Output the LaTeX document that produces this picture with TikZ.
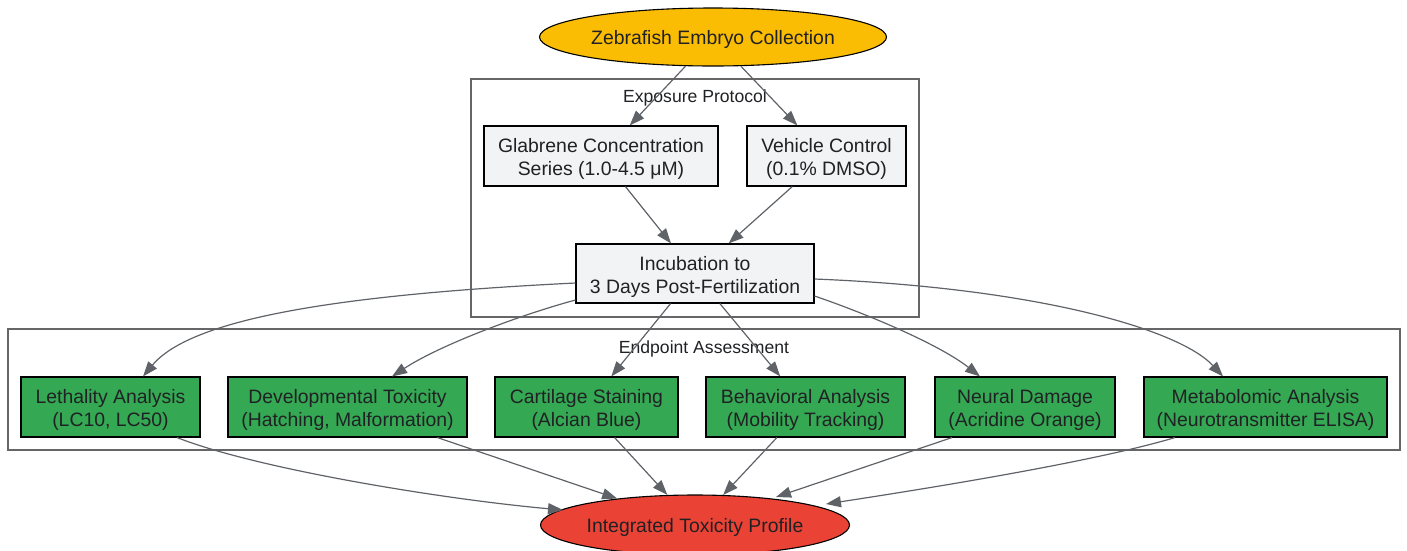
\documentclass[tikz,border=0pt]{standalone}
\usepackage{fontspec}
\setmainfont{Liberation Sans}
\usetikzlibrary{arrows.meta,shapes.geometric,calc}
\definecolor{edgec}{HTML}{5F6368}
\definecolor{txtc}{HTML}{202124}
\definecolor{greyfill}{HTML}{F1F3F4}
\definecolor{greenfill}{HTML}{34A853}
\definecolor{yellowfill}{HTML}{FBBC04}
\definecolor{redfill}{HTML}{EA4335}
\definecolor{clusterc}{HTML}{666666}
\newcommand\mytwo[2]{\rule{0pt}{21.3pt}#1\\#2\rule[-5pt]{0pt}{5pt}}
\newcommand\myone[1]{\rule[-5pt]{0pt}{24pt}#1}
\begin{document}
\begin{tikzpicture}[x=1pt,y=-1pt,
  mainfont/.style={font=\fontsize{19.4}{23.3}\selectfont},
  box/.style={draw=black, line width=1.1pt, rectangle, minimum height=60pt, inner sep=0pt, align=center, text=txtc, mainfont},
  greybox/.style={box, fill=greyfill},
  greenbox/.style={box, fill=greenfill},
  oval/.style={draw=black, line width=1.1pt, ellipse, inner sep=0pt, text=txtc, mainfont},
  cluster/.style={draw=clusterc, line width=1.2pt},
  clabel/.style={text=txtc, font=\fontsize{17.6}{21}\selectfont, inner sep=0pt},
  edge/.style={draw=edgec, line width=1.2pt, -{Triangle[length=15pt,width=11pt]}}
]
\useasboundingbox (0,0) rectangle (1407,550);
% clusters
\draw[cluster] (471,79) rectangle (919,317);
\node[clabel] (lblexp) at (695,98) {Exposure Protocol};
\draw[cluster] (8,329) rectangle (1400,450);
\node[clabel] (lblend) at (704,349) {Endpoint Assessment};
% nodes
\node[oval, fill=yellowfill, minimum width=347pt, minimum height=58pt] (top) at (713,37) {\myone{Zebrafish Embryo Collection}};
\node[greybox, minimum width=234pt] (glab) at (601,156) {\mytwo{Glabrene Concentration}{Series (1.0-4.5 μM)}};
\node[greybox, minimum width=159pt] (veh) at (826.5,156) {\mytwo{Vehicle Control}{(0.1\% DMSO)}};
\node[greybox, minimum width=238pt, minimum height=59pt] (inc) at (695,273.5) {\mytwo{Incubation to}{3 Days Post-Fertilization}};
\node[greenbox, minimum width=179pt] (leth) at (110.5,407) {\mytwo{Lethality Analysis}{(LC10, LC50)}};
\node[greenbox, minimum width=239pt] (dev) at (347.5,407) {\mytwo{Developmental Toxicity}{(Hatching, Malformation)}};
\node[greenbox, minimum width=183pt] (cart) at (586.5,407) {\mytwo{Cartilage Staining}{(Alcian Blue)}};
\node[greenbox, minimum width=199pt] (beh) at (805.5,407) {\mytwo{Behavioral Analysis}{(Mobility Tracking)}};
\node[greenbox, minimum width=180pt] (neur) at (1025,407) {\mytwo{Neural Damage}{(Acridine Orange)}};
\node[greenbox, minimum width=243pt] (meta) at (1265.5,407) {\mytwo{Metabolomic Analysis}{(Neurotransmitter ELISA)}};
\node[oval, fill=redfill, minimum width=309pt, minimum height=60pt] (int) at (695,525) {\myone{Integrated Toxicity Profile}};
% edges
\draw[edge] (top) -- (glab);
\draw[edge] (top) -- (veh);
\draw[edge] (glab) -- (inc);
\draw[edge] (veh) -- (inc);
\draw[edge] ($(inc.west)+(0,9.5)$) .. controls (330,295) and (190,320) .. ($(leth.north)+(32.5,0)$);
\draw[edge] ($(inc.west)+(0,26.5)$) .. controls (520,315) and (440,345) .. ($(dev.north)+(44.5,0)$);
\draw[edge] (inc) -- (cart);
\draw[edge] (inc) -- (beh);
\draw[edge] ($(inc.east)+(0,22.5)$) .. controls (870,315) and (940,345) .. ($(neur.north)+(-45,0)$);
\draw[edge] ($(inc.east)+(0,5.5)$) .. controls (1040,288) and (1180,330) .. ($(meta.north)+(-42.5,0)$);
\draw[edge] ($(leth.south)+(66.5,0)$) .. controls (260,470) and (450,500) .. ($(int.center)+(-132,-15)$);
\draw[edge] (dev) -- (int);
\draw[edge] (cart) -- (int);
\draw[edge] (beh) -- (int);
\draw[edge] ($(neur.south)+(-73,0)$) -- ($(int.center)+(81,-28)$);
\draw[edge] ($(meta.south)+(-90.5,0)$) .. controls (1100,460) and (950,485) .. ($(int.center)+(131,-21)$);
\end{tikzpicture}
\end{document}
